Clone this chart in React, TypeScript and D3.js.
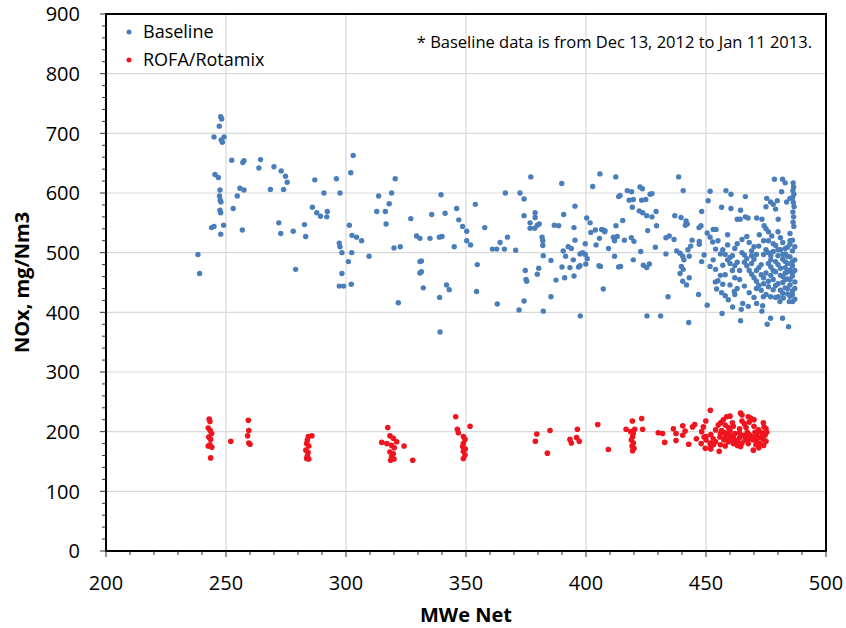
import * as d3 from 'd3';

// x-axis (MWe Net) and y-axis (NOx) tick values
const xTicks = [200, 250, 300, 350, 400, 450, 500];
const yTicks = [0, 100, 200, 300, 400, 500, 600, 700, 800, 900];

const seriesNames = ['Baseline', 'ROFA/Rotamix'];
const noteText = '* Baseline data is from Dec 13, 2012 to Jan 11 2013.';

// Baseline points [MWe, NOx]
const baseline: [number, number][] = [
  [247.8, 728], [248.2, 724], [247.2, 712], [245, 694], [249.2, 694], [248, 689], [248.5, 685], [252.4, 655],
  [257, 651], [257.5, 654], [264.4, 656], [263.7, 642], [270, 644], [273, 637], [274.8, 628], [275.5, 618],
  [268.5, 606], [274, 606], [287, 622], [296, 624], [303, 663], [302, 634], [290.8, 600], [297.5, 600],
  [320.5, 624], [319, 600], [313.6, 595], [318, 582], [316.4, 569], [312.8, 569], [316.7, 548], [327, 557],
  [329.4, 528], [330.8, 524], [320, 508], [322.6, 510], [330.8, 485], [330.8, 466], [321.8, 416], [245.4, 631],
  [246.8, 626], [247.5, 605], [247.3, 595], [247.6, 588], [247.9, 585], [247.5, 571], [247.8, 567], [254.7, 595],
  [255.8, 608], [257.5, 605], [253, 574], [244, 542], [245, 544], [249, 546], [247.8, 531], [256.8, 538],
  [272, 550], [272.8, 532], [278, 536], [282.7, 547], [283.2, 527], [279, 472], [286, 576], [287.8, 567],
  [289.4, 561], [292, 560], [292.2, 569], [301.4, 546], [302.5, 529], [304.4, 526], [306.5, 520], [297.2, 516],
  [297.5, 510], [298.3, 500], [302.4, 500], [301, 485], [309.6, 494], [298.3, 465], [297.2, 444], [299, 444],
  [302.2, 447], [239, 465], [238.3, 497],
  [377, 627], [389.9, 616], [405.8, 632], [412.4, 627], [402.8, 611], [339.6, 597], [366.4, 600], [372.5, 600],
  [374.2, 590], [335.7, 564], [341.3, 566], [346.1, 574], [353.9, 581], [347, 555], [348.6, 544], [350.3, 536],
  [357.8, 542], [335, 524], [338.9, 526], [340, 527], [345.1, 510], [350.3, 520], [351.9, 513], [364.2, 517],
  [367.3, 526], [361, 506], [362.8, 506], [366, 506], [370.7, 504], [331.4, 486], [331.4, 468], [332.2, 441],
  [341.9, 446], [343, 438], [339, 425], [339.2, 367], [354.7, 480], [354.4, 435], [363, 414], [372.1, 404],
  [374.2, 419], [374.7, 470], [375, 455], [375.3, 452], [374.2, 562], [376.7, 550], [378.8, 559], [378.8, 567],
  [376.7, 541], [378.6, 541], [379.7, 546], [380.5, 548], [381.7, 526], [382, 520], [382, 512], [382.2, 495],
  [380.3, 474], [379.7, 464], [385.4, 487], [382.2, 402], [385.4, 426], [387.5, 454], [391.1, 458], [395, 461],
  [386.8, 546], [388.6, 545], [390.7, 564], [395.4, 578], [395, 542], [395.4, 521], [390.5, 503], [391.5, 494],
  [392.6, 510], [393.9, 507], [394.7, 488], [393.3, 475], [390, 476], [397.5, 498], [398.6, 500], [399.7, 497],
  [400.5, 490], [399.9, 481], [397.5, 478], [396.9, 476], [400.3, 558], [401.7, 550], [402, 534], [403.9, 538],
  [399.7, 515], [405.6, 524], [404.2, 513], [407, 538], [407.8, 535], [409.4, 507], [411.9, 494], [413.6, 476],
  [411.9, 520], [413, 527], [412.5, 545], [413.6, 594], [405.4, 478], [407.2, 439], [397.6, 394],
  [438.6, 627], [440.5, 604], [451.7, 603], [458.3, 604], [460.4, 598], [466.4, 594], [450.9, 587], [478.5, 623],
  [481.9, 623], [483, 617], [481.5, 602], [475.3, 591], [476.9, 585], [479.7, 587],
  [486.3, 617], [486.5, 610], [486.2, 604], [486.6, 598], [486.1, 592], [486.4, 584], [486.7, 577], [486.2, 568],
  [486.5, 560], [486.3, 551], [486.6, 544],
  [483.6, 585], [485, 591], [475, 577], [478, 581], [479, 573], [414.2, 596], [417.2, 604], [419, 602],
  [418, 588], [419.7, 589], [419.3, 576], [422.5, 610], [423.5, 607], [423.2, 588], [424.9, 589], [426.7, 598],
  [427.5, 599], [422.2, 570], [423.6, 567], [425.3, 562], [427.5, 560], [429.2, 569], [437, 562], [439.6, 559],
  [441.7, 553], [442.2, 548], [441.4, 546], [448.2, 569], [447.9, 545], [447.1, 542], [456.5, 576], [460.4, 574],
  [464.4, 571], [466.4, 560], [463, 556], [464.2, 556], [467.5, 558], [471.1, 558], [473.3, 556], [474.2, 545],
  [476, 535], [477.4, 528], [472.2, 530], [480.1, 556], [407.9, 537], [406.5, 539], [415.3, 554], [411.4, 526],
  [416, 521], [418.9, 525], [420, 519], [414.4, 477], [406, 477], [419.7, 488], [422.8, 502], [423.9, 479],
  [425.3, 475], [426.4, 481], [428.9, 509], [425.7, 537], [429.4, 545], [433.3, 525], [434.7, 528], [436.7, 522],
  [433.3, 498], [437.8, 503], [439.2, 499], [440.3, 494], [440.8, 488], [443, 494], [442.5, 505], [443.6, 511],
  [444.2, 521], [447.2, 519], [447.2, 514], [439.7, 477], [440.5, 472], [439.2, 465], [440.3, 452], [441.9, 446],
  [443, 458], [434.2, 426], [425.4, 394], [431.1, 394], [442.8, 383], [446.9, 430], [449.2, 496], [448.2, 485],
  [450.5, 533], [453, 539], [454.2, 539], [451.7, 526], [452.8, 518], [450.5, 412], [451.7, 477],
  [456.7, 398], [464.4, 386], [475.5, 380], [484.4, 376], [481.9, 390], [476.9, 390], [473.3, 402], [473.6, 411],
  [465.3, 415], [464.7, 405], [461.1, 409], [467.6, 410], [471.1, 415], [473.9, 426], [476.9, 426], [480.1, 426],
  [453.9, 451], [454.4, 439], [456.5, 433], [459.3, 421], [461.8, 435], [480.8, 418], [482.2, 424], [484.7, 418],
  [486.1, 418],
  [486, 521], [485, 514], [484, 509], [486, 503], [483, 498], [485, 493], [487, 488], [484, 482],
  [486, 478], [485, 471], [483, 466], [486, 461], [484, 456], [487, 451], [485, 446], [483, 441],
  [486, 436], [484, 431], [485, 427], [487, 422], [482, 517], [481, 505], [482, 489], [481, 474],
  [482, 460], [480, 448], [481, 437], [479, 512], [480, 495], [479, 468], [478, 455], [477, 476],
  [478, 502], [476, 520], [477, 488], [475, 466], [476, 443], [474, 458], [473, 480], [474, 497],
  [472, 511], [473, 437], [471, 470], [470, 489], [471, 452], [469, 503], [468, 517], [469, 464],
  [467, 478], [466, 444], [466, 496], [465, 522], [464, 455], [463, 484], [462, 507], [461, 470],
  [460, 446], [460, 492], [459, 513], [458, 463], [457, 479], [456, 498], [455, 453], [455, 520],
  [454, 472], [453, 488], [458, 428], [462, 430], [470, 425], [475, 430], [468, 433], [472, 445],
  [476, 500], [479, 485], [483, 475], [486, 466],
  [457, 505], [459, 488], [461, 495], [463, 515], [465, 500], [467, 490], [469, 482], [470, 510],
  [471, 497], [472, 475], [473, 463], [474, 520], [475, 505], [476, 482], [477, 462], [478, 470],
  [478, 515], [479, 445], [480, 505], [480, 480], [481, 462], [481, 525], [482, 450], [482, 497],
  [483, 507], [483, 485], [484, 468], [484, 494], [485, 455], [485, 520], [486, 485], [486, 430],
  [487, 510], [487, 470], [484, 440], [482, 432], [478, 438], [476, 452], [474, 448], [470, 458],
  [468, 470], [466, 484], [464, 470], [462, 458], [460, 482], [458, 497], [456, 462], [454, 506],
  [459, 530], [467, 527], [475, 540], [480, 535], [485, 532], [463, 440], [457, 447], [471, 440],
  [479, 425], [487, 440], [483, 455], [477, 495], [469, 495], [462, 478],
];

// ROFA/Rotamix points [MWe, NOx]
const rofa: [number, number][] = [
  [243, 221], [243.3, 217], [242.6, 206], [243.4, 202], [244, 197], [242.8, 191], [243.6, 187], [242.6, 176],
  [243.3, 178], [244.1, 174], [243.6, 156], [252, 184], [259.3, 219], [259.5, 202], [259, 193], [259.5, 181],
  [260, 179],
  [285.8, 193], [284.3, 192], [283.9, 186], [283.6, 180], [284.5, 176], [283.3, 169], [284.2, 165], [283.9, 159],
  [284.5, 154], [283.6, 155],
  [317.4, 207], [318.3, 193], [319.7, 189], [321.1, 183], [314.9, 182], [317, 180], [319, 177], [320.1, 173],
  [318.3, 166], [319.7, 163], [319, 158], [320, 154], [318.6, 152], [324.2, 176], [327.8, 152],
  [345.7, 225], [346.4, 204], [346.8, 198], [351.7, 209], [348.9, 192], [349.6, 187], [348.9, 180], [348.6, 175],
  [349.7, 171], [348.9, 167], [349.6, 161], [348.9, 155],
  [379.5, 196], [378.9, 184], [383.9, 164], [385, 202], [393.3, 187], [393.9, 181], [396.4, 204], [396.1, 190],
  [397.2, 184], [404.9, 212], [409.3, 170],
  [419.3, 218], [423.2, 222], [423.6, 204], [416.7, 204], [418.6, 200], [419.7, 197], [419.4, 191], [418.9, 186],
  [419.7, 181], [419.2, 176], [420, 172], [419.4, 168], [420.3, 204],
  [430.1, 198], [431.9, 197], [432.8, 182], [437.5, 197], [437.5, 185], [436.4, 205], [440.3, 210], [440.3, 194],
  [442.8, 179], [444.4, 208], [445.3, 212], [441.3, 201],
  [451.8, 236], [449.9, 218], [448.9, 208], [448.2, 200], [449.2, 191], [450, 186], [451.7, 181], [453.1, 178],
  [449.7, 172], [455.5, 167], [451.9, 177],
  [455.1, 211], [456.1, 215], [457.2, 220], [458.6, 225], [460, 226], [458, 211], [459.3, 207], [461.4, 209],
  [456.5, 202], [457.9, 198], [460, 194], [461.4, 191], [455.8, 191], [457.5, 186], [459.3, 183], [461.4, 180],
  [463.1, 177], [460, 202],
  [464.4, 231], [465, 228], [467.6, 225], [468.6, 223], [463.9, 198], [465.6, 194], [467.2, 199], [469, 192],
  [469.7, 186], [466.3, 186], [467.6, 180], [464.4, 175], [469.7, 169], [470.8, 178], [472.2, 180], [473.9, 186],
  [474.6, 194], [474.2, 208], [473.9, 215], [475.3, 199], [473.2, 198], [471.1, 197], [471.9, 203], [472.8, 190],
  [470.4, 199], [468, 188], [466.7, 207],
  [452, 195], [454, 203], [453, 188], [456, 197], [458, 190], [459, 197], [462, 186], [462, 197],
  [464, 190], [463, 184], [465, 181], [466, 213], [468, 216], [470, 209], [471, 185], [471, 191],
  [472, 173], [474, 177], [475, 184], [475, 205], [468, 195], [467, 191], [464, 205], [461, 215],
  [454, 183], [456, 178], [460, 187], [450, 192], [448, 180], [446, 188], [452, 171], [458, 176],
  [470, 220], [465, 218],
];

const colors = ['#4A7EBB', '#F0141E'];

export default function App() {
  const width = 846;
  const height = 628;
  const margin = { top: 14, right: 20, bottom: 77, left: 106 };
  const x0 = margin.left, x1 = width - margin.right;
  const y0 = height - margin.bottom, y1 = margin.top;

  const x = d3.scaleLinear().domain([200, 500]).range([x0, x1]);
  const y = d3.scaleLinear().domain([0, 900]).range([y0, y1]);

  const xMinor = d3.range(200, 501, 10);
  const yMinor = d3.range(0, 901, 20);
  const font = "'Open Sans', 'Noto Sans', sans-serif";

  return (
    <svg width={width} height={height} style={{ position: 'absolute', left: 0, top: 0, background: '#fff' }}
      fontFamily={font}>
      {/* grid */}
      {xTicks.slice(1, -1).map(t => (
        <line key={'gx' + t} x1={x(t)} x2={x(t)} y1={y0} y2={y1} stroke="#d9d9d9" strokeWidth={1.2} />
      ))}
      {yTicks.slice(1, -1).map(t => (
        <line key={'gy' + t} x1={x0} x2={x1} y1={y(t)} y2={y(t)} stroke="#d9d9d9" strokeWidth={1.2} />
      ))}

      {/* points */}
      {baseline.map((d, i) => (
        <circle key={'b' + i} cx={x(d[0])} cy={y(d[1])} r={2.7} fill={colors[0]} />
      ))}
      {rofa.map((d, i) => (
        <circle key={'r' + i} cx={x(d[0])} cy={y(d[1])} r={2.8} fill={colors[1]} />
      ))}

      {/* frame */}
      <rect x={x0} y={y1} width={x1 - x0} height={y0 - y1} fill="none" stroke="#000" strokeWidth={2} />

      {/* minor / major ticks */}
      {xMinor.map(t => (
        <line key={'tx' + t} x1={x(t)} x2={x(t)} y1={y0} y2={y0 + (t % 50 === 0 ? 6 : 4)} stroke="#333" strokeWidth={1} />
      ))}
      {yMinor.map(t => (
        <line key={'ty' + t} x1={x0} x2={x0 - (t % 100 === 0 ? 6 : 4)} y1={y(t)} y2={y(t)} stroke="#333" strokeWidth={1} />
      ))}

      {/* tick labels */}
      {xTicks.map(t => (
        <text key={'lx' + t} x={x(t)} y={590} textAnchor="middle" fontSize={20} fill="#000">{t}</text>
      ))}
      {yTicks.map(t => (
        <text key={'ly' + t} x={80} y={y(t)} dy="0.36em" textAnchor="end" fontSize={20} fill="#000">{t}</text>
      ))}

      {/* axis titles */}
      <text x={(x0 + x1) / 2} y={622} textAnchor="middle" fontSize={20} fontWeight="bold" fill="#000">MWe Net</text>
      <text transform={`translate(22,${(y0 + y1) / 2}) rotate(-90)`} textAnchor="middle" dy="0.36em"
        fontSize={20} fontWeight="bold" fill="#000">NOx, mg/Nm3</text>

      {/* legend */}
      {seriesNames.map((name, i) => (
        <g key={name} transform={`translate(129,${32 + i * 28})`}>
          <circle r={2.5} fill={colors[i]} />
          <text x={14} dy="0.36em" fontSize={18} fill="#000">{name}</text>
        </g>
      ))}

      {/* note */}
      <text x={812} y={48} textAnchor="end" fontSize={16.5} fill="#000">{noteText}</text>
    </svg>
  );
}
